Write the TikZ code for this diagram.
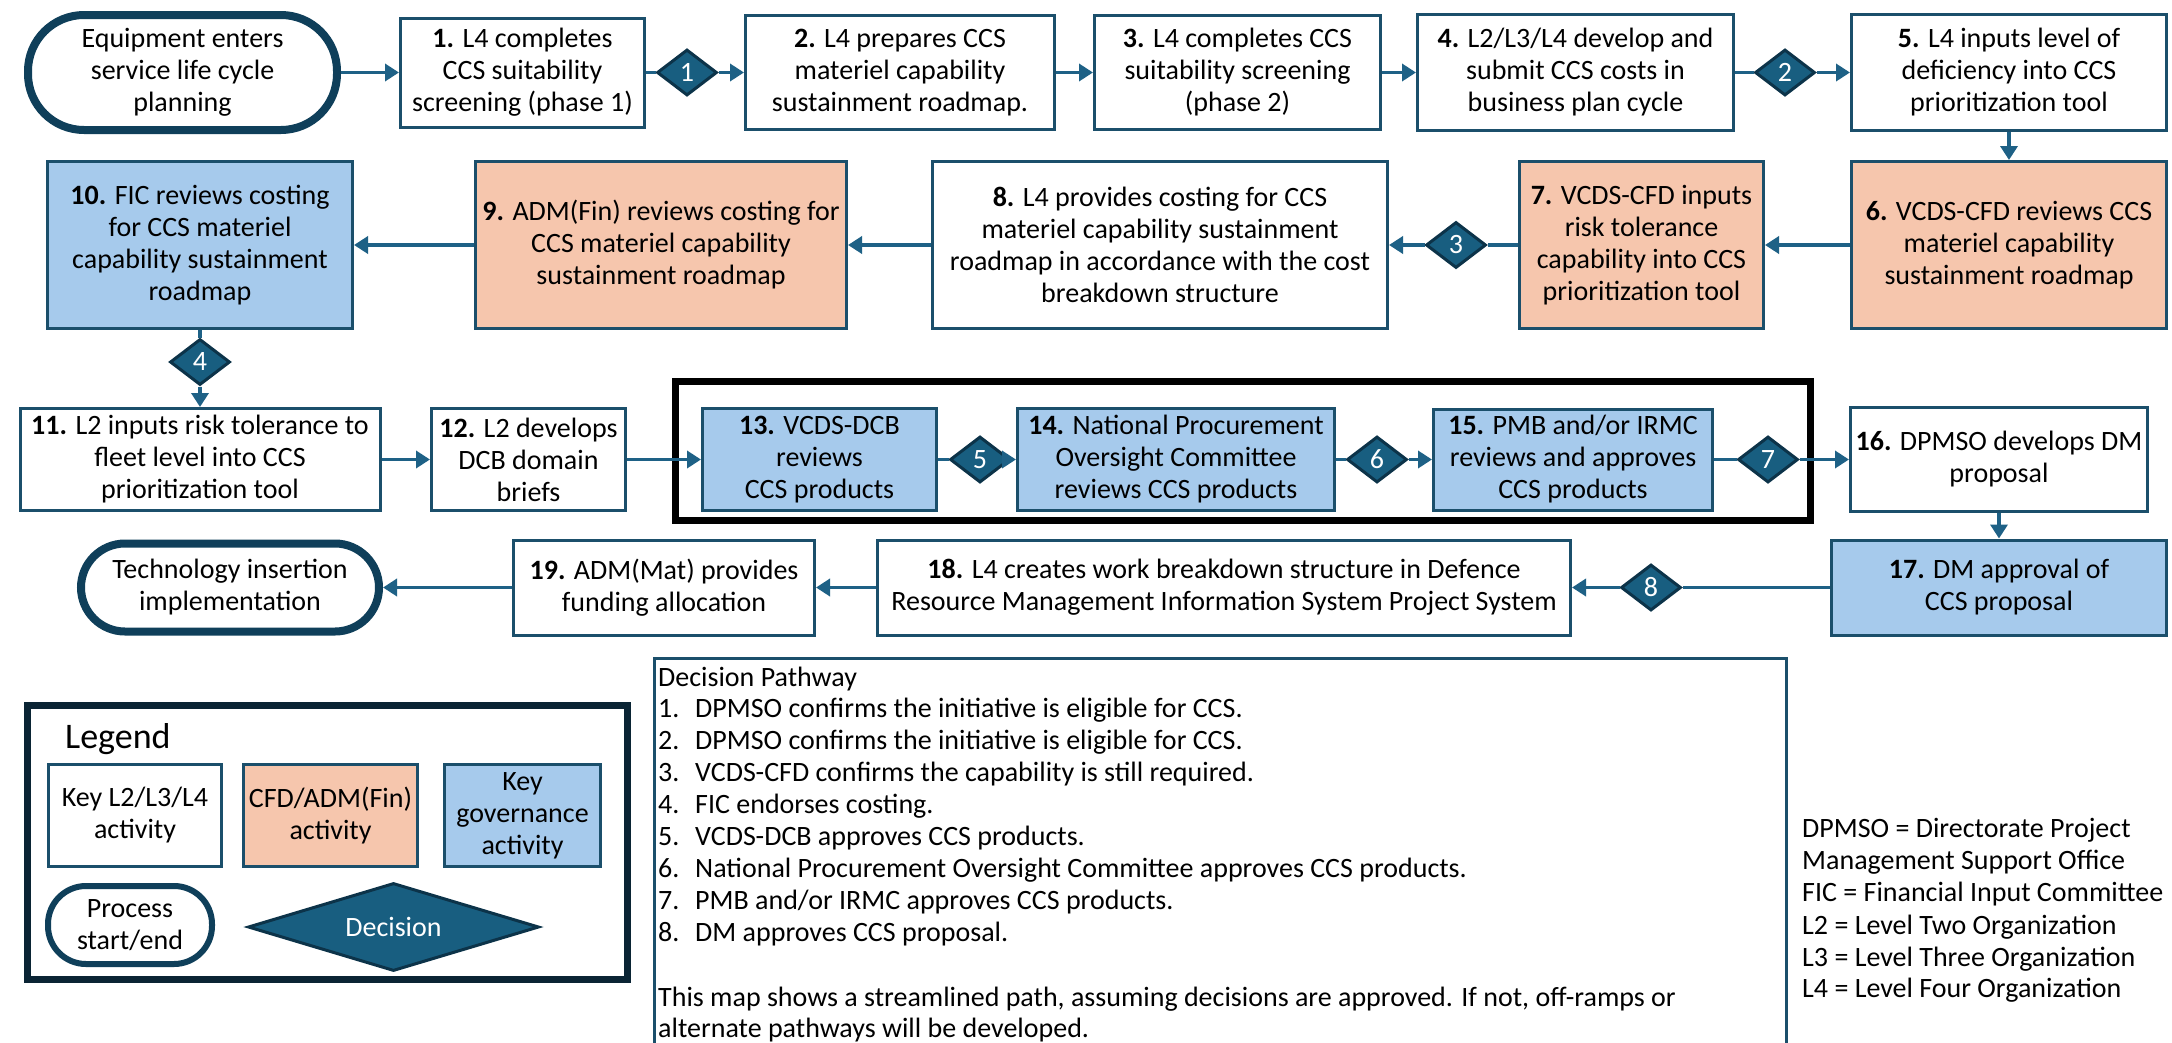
\documentclass[tikz,border=0pt]{standalone}
\usepackage{fontspec}
\setmainfont{Carlito}
\usetikzlibrary{arrows.meta,shapes.geometric}

\definecolor{boxline}{HTML}{1B4F6B}
\definecolor{arrowc}{HTML}{1E6186}
\definecolor{decfill}{HTML}{185E80}
\definecolor{decline}{HTML}{0C3349}
\definecolor{termline}{HTML}{0F3F5A}
\definecolor{finfill}{HTML}{F6C6AD}
\definecolor{govfill}{HTML}{A6CAEC}
\definecolor{legline}{HTML}{0A2434}

\newcommand\flowtext{\fontsize{28}{32}\selectfont}

\tikzset{
  act/.style={rectangle, draw=boxline, line width=3pt, fill=white, align=center,
              inner sep=2pt, font=\flowtext, text=black},
  fin/.style={act, fill=finfill},
  gov/.style={act, fill=govfill},
  term/.style={rectangle, draw=termline, line width=8pt, fill=white, align=center,
               inner sep=2pt, font=\flowtext, text=black},
  dec/.style={diamond, aspect=1.3, draw=decline, fill=decfill, line width=3pt,
              text=white, inner sep=0pt, minimum width=60pt, minimum height=46pt,
              font=\flowtext},
  link/.style={draw=arrowc, line width=3.5pt},
  flow/.style={link, -{Triangle[length=14pt,width=17pt]}},
  listline/.style={anchor=base west, inner sep=0pt, font=\flowtext, text=black},
}

\begin{document}
\begin{tikzpicture}[x=1pt,y=-1pt]
\path[use as bounding box, fill=white] (0,0) rectangle (2172,1042);
\clip (0,0) rectangle (2172,1042);

% ---------- row 1 ----------
\node[term, rounded corners=56pt, minimum width=309pt, minimum height=115pt] (start) at (182.5,72.5)
  {Equipment enters\\service life cycle\\planning};
\node[act, minimum width=244pt, minimum height=109pt] (b1) at (522.5,72.5)
  {\textbf{1.} L4 completes\\CCS suitability\\screening (phase 1)};
\node[dec] (d1) at (687,72.5) {1};
\node[act, minimum width=309pt, minimum height=114pt] (b2) at (900,72.5)
  {\textbf{2.} L4 prepares CCS\\materiel capability\\sustainment roadmap.};
\node[act, minimum width=286pt, minimum height=114pt] (b3) at (1237.5,72.5)
  {\textbf{3.} L4 completes CCS\\suitability screening\\(phase 2)};
\node[act, minimum width=316pt, minimum height=116pt] (b4) at (1575.5,72.5)
  {\textbf{4.} L2/L3/L4 develop and\\submit CCS costs in\\business plan cycle};
\node[dec] (d2) at (1785,72.5) {2};
\node[act, minimum width=315pt, minimum height=116pt] (b5) at (2009,72.5)
  {\textbf{5.} L4 inputs level of\\deficiency into CCS\\prioritization tool};

% ---------- row 2 ----------
\node[fin, minimum width=315pt, minimum height=167pt] (b6) at (2009,245)
  {\textbf{6.} VCDS-CFD reviews CCS\\materiel capability\\sustainment roadmap};
\node[fin, minimum width=244pt, minimum height=167pt] (b7) at (1641.5,245)
  {\textbf{7.} VCDS-CFD inputs\\risk tolerance\\capability into CCS\\prioritization tool};
\node[dec] (d3) at (1456,245) {3};
\node[act, minimum width=455pt, minimum height=167pt] (b8) at (1160,245)
  {\textbf{8.} L4 provides costing for CCS\\materiel capability sustainment\\roadmap in accordance with the cost\\breakdown structure};
\node[fin, minimum width=371pt, minimum height=167pt] (b9) at (661,245)
  {\textbf{9.} ADM(Fin) reviews costing for\\CCS materiel capability\\sustainment roadmap};
\node[gov, minimum width=305pt, minimum height=167pt] (b10) at (200,245)
  {\textbf{10.} FIC reviews costing\\for CCS materiel\\capability sustainment\\roadmap};
\node[dec] (d4) at (200,362) {4};

% ---------- row 3 ----------
\draw[line width=7pt, black] (675.5,381.5) rectangle (1810.5,520.5);
\node[act, minimum width=360pt, minimum height=102pt] (b11) at (200,459.5)
  {\textbf{11.} L2 inputs risk tolerance to\\fleet level into CCS\\prioritization tool};
\node[act, minimum width=194pt, minimum height=102pt] (b12) at (528.5,459.5)
  {\textbf{12.} L2 develops\\DCB domain\\briefs};
\node[gov, minimum width=234pt, minimum height=102pt] (b13) at (819.5,459.5)
  {\textbf{13.} VCDS-DCB\\reviews\\CCS products};
\node[dec] (d5) at (980,459.5) {5};
\node[gov, minimum width=317pt, minimum height=102pt] (b14) at (1176,459.5)
  {\textbf{14.} National Procurement\\Oversight Committee\\reviews CCS products};
\node[dec] (d6) at (1377,459.5) {6};
\node[gov, minimum width=279pt, minimum height=101pt] (b15) at (1573,459.5)
  {\textbf{15.} PMB and/or IRMC\\reviews and approves\\CCS products};
\node[dec] (d7) at (1768,459.5) {7};
\node[act, minimum width=297pt, minimum height=104pt] (b16) at (1999,459.5)
  {\textbf{16.} DPMSO develops DM\\proposal};

% ---------- row 4 ----------
\node[gov, minimum width=335pt, minimum height=95pt] (b17) at (1999,587.5)
  {\textbf{17.} DM approval of\\CCS proposal};
\node[dec] (d8) at (1651,587.5) {8};
\node[act, minimum width=693pt, minimum height=95pt] (b18) at (1224,587.5)
  {\textbf{18.} L4 creates work breakdown structure in Defence\\Resource Management Information System Project System};
\node[act, minimum width=301pt, minimum height=95pt] (b19) at (664,587.5)
  {\textbf{19.} ADM(Mat) provides\\funding allocation};
\node[term, rounded corners=44pt, minimum width=298pt, minimum height=88pt] (finish) at (230,587.5)
  {Technology insertion\\implementation};

% ---------- connectors ----------
\draw[flow] (start) -- (b1);
\draw[link] (b1) -- (d1);
\draw[flow] (d1) -- (b2);
\draw[flow] (b2) -- (b3);
\draw[flow] (b3) -- (b4);
\draw[link] (b4) -- (d2);
\draw[flow] (d2) -- (b5);
\draw[flow] (b5) -- (b6);
\draw[flow] (b6) -- (b7);
\draw[link] (b7) -- (d3);
\draw[flow] (d3) -- (b8);
\draw[flow] (b8) -- (b9);
\draw[flow] (b9) -- (b10);
\draw[link] (b10) -- (d4);
\draw[flow] (d4) -- (b11);
\draw[flow] (b11) -- (b12);
\draw[flow] (b12) -- (b13);
\draw[link] (b13) -- (d5);
\draw[flow] (d5) -- (b14);
\draw[link] (b14) -- (d6);
\draw[flow] (d6) -- (b15);
\draw[link] (b15) -- (d7);
\draw[flow] (d7) -- (b16);
\draw[flow] (b16) -- (b17);
\draw[link] (b17) -- (d8);
\draw[flow] (d8) -- (b18);
\draw[flow] (b18) -- (b19);
\draw[flow] (b19) -- (finish);

% ---------- legend ----------
\draw[line width=7pt, legline] (27.5,705.5) rectangle (627.5,979.5);
\node[anchor=base west, inner sep=0pt, font=\fontsize{36}{40}\selectfont] (legtitle) at (65,748) {Legend};
\node[act, minimum width=173pt, minimum height=102pt] (lg1) at (135,815.5) {Key L2/L3/L4\\activity};
\node[fin, minimum width=174pt, minimum height=102pt] (lg2) at (330.5,815.5) {CFD/ADM(Fin)\\activity};
\node[gov, minimum width=156pt, minimum height=102pt] (lg3) at (522.5,815.5) {Key\\governance\\activity};
\node[term, line width=6pt, rounded corners=38pt, minimum width=164pt, minimum height=78pt] (lg4) at (130,925)
  {Process\\start/end};
\node[dec, aspect=3.3, minimum width=291pt, minimum height=88pt] (lg5) at (393.5,927) {Decision};

% ---------- decision pathway ----------
\draw[line width=3pt, boxline] (654.5,658.5) rectangle (1786.5,1060);
\node[listline] (dp0) at (658,686) {Decision Pathway};
\foreach \n/\t [count=\i] in {
  1/{DPMSO confirms the initiative is eligible for CCS.},
  2/{DPMSO confirms the initiative is eligible for CCS.},
  3/{VCDS-CFD confirms the capability is still required.},
  4/{FIC endorses costing.},
  5/{VCDS-DCB approves CCS products.},
  6/{National Procurement Oversight Committee approves CCS products.},
  7/{PMB and/or IRMC approves CCS products.},
  8/{DM approves CCS proposal.}} {
  \node[listline] (dpn\i) at (658,{686+31.9*\i}) {\n.};
  \node[listline] (dpt\i) at (695,{686+31.9*\i}) {\t};
}
\node[listline] (dp9) at (658,1006) {This map shows a streamlined path, assuming decisions are approved. If not, off-ramps or};
\node[listline] (dp10) at (658,1037.5) {alternate pathways will be developed.};

% ---------- abbreviations ----------
\node[listline] (ab1) at (1802,837) {DPMSO = Directorate Project};
\node[listline] (ab2) at (1802,869) {Management Support Office};
\node[listline] (ab3) at (1802,901) {FIC = Financial Input Committee};
\node[listline] (ab4) at (1802,934) {L2 = Level Two Organization};
\node[listline] (ab5) at (1802,966) {L3 = Level Three Organization};
\node[listline] (ab6) at (1802,997) {L4 = Level Four Organization};
\end{tikzpicture}
\end{document}
